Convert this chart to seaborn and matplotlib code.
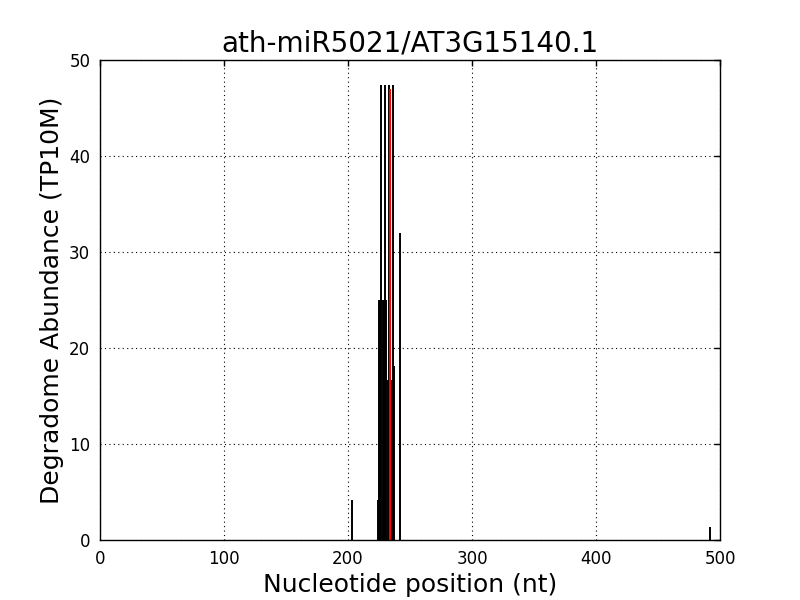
import matplotlib
matplotlib.use("Agg")
import matplotlib.pyplot as plt
import seaborn as sns
import pandas as pd

positions = [203, 224, 225, 226, 227, 228, 229, 230, 231, 232, 233, 235, 236, 237, 242, 492]
abundance = [4.17, 4.17, 25.0, 25.0, 47.4, 25.0, 25.0, 47.4, 25.0, 16.67, 47.4, 16.67, 47.4, 18.1, 32.0, 1.39]
cleave_pos = [234]
cleave_val = [47.0]

title = "ath-miR5021/AT3G15140.1"
xlabel = "Nucleotide position (nt)"
ylabel = "Degradome Abundance (TP10M)"

sns.set_style("white")
plt.rcParams['font.family'] = ['DejaVu Sans']
plt.rcParams['text.color'] = 'black'
plt.rcParams['axes.labelcolor'] = 'black'

df = pd.DataFrame({"pos": positions, "val": abundance})
cdf = pd.DataFrame({"pos": cleave_pos, "val": cleave_val})

fig = plt.figure(figsize=(8, 6), dpi=100)
ax = fig.add_axes([0.125, 0.1, 0.775, 0.8])
ax.vlines(df["pos"], 0, df["val"], colors="black", linewidth=1.4)
ax.vlines(cdf["pos"], 0, cdf["val"], colors="red", linewidth=1.5)

ax.set_xlim(0, 500)
ax.set_ylim(0, 50)
ax.set_xticks([0, 100, 200, 300, 400, 500])
ax.set_yticks([0, 10, 20, 30, 40, 50])
ax.grid(True, color="black", linestyle=(0, (1, 3)), linewidth=0.8)
ax.set_axisbelow(True)
for s in ax.spines.values():
    s.set_color("black")
    s.set_linewidth(1.0)
ax.tick_params(direction="in", length=4, width=1, top=True, right=True,
               labelsize=12, colors="black", pad=7)
ax.set_title(title, fontsize=20, color="black")
ax.set_xlabel(xlabel, fontsize=18, color="black")
ax.set_ylabel(ylabel, fontsize=18, color="black")
fig.savefig("out.png", dpi=100)
